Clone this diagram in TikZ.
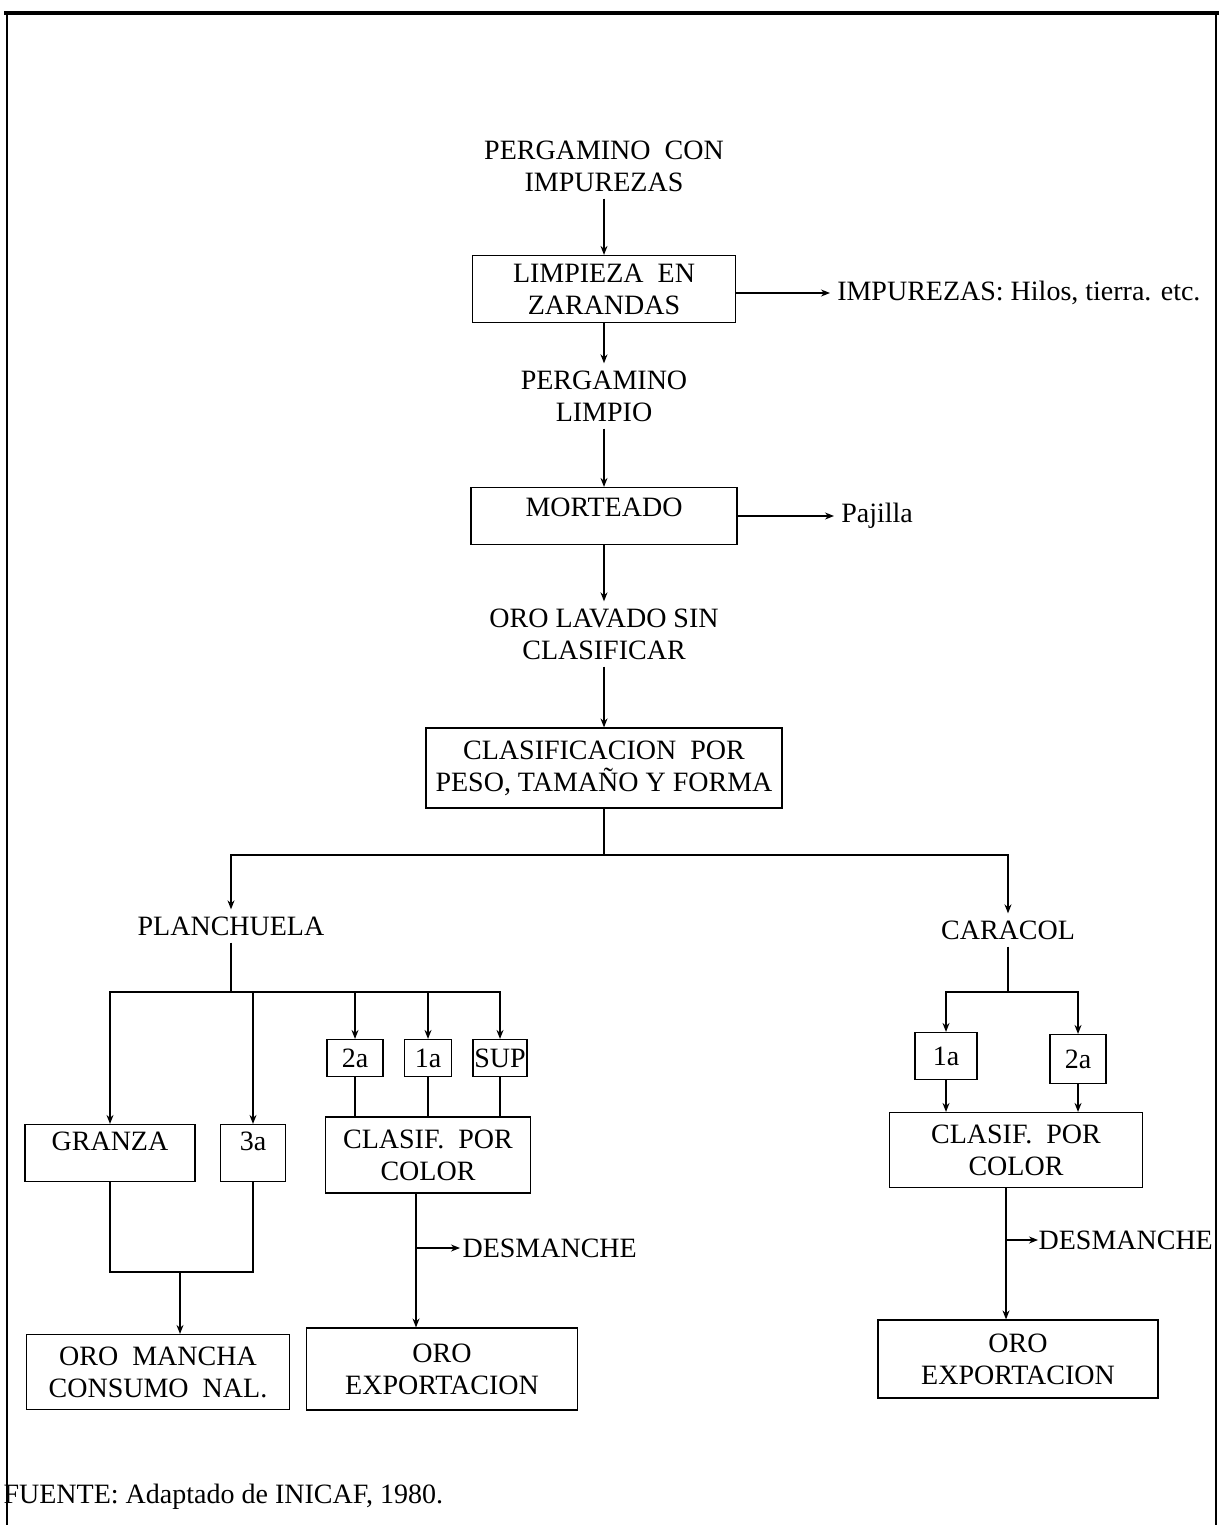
\documentclass[tikz,border=0pt]{standalone}
\usepackage{fontspec}
\setmainfont{Liberation Serif}
\usetikzlibrary{arrows.meta}

\begin{document}
\begin{tikzpicture}[x=0.5pt, y=-0.5pt, line width=0.6pt,
    >={Stealth[length=4.5pt,width=3.5pt]},
    txt/.style={align=center, font=\fontsize{14}{16}\selectfont},
    box/.style={draw, txt, inner sep=2pt}]
  \useasboundingbox (0,0) rectangle (1219,1525);
  % marco
  \draw[line width=1.6pt] (4,13) -- (1219,13);
  \draw (7,13) -- (7,1525);
  \draw (1216,13) -- (1216,1525);

  % columna central
  \node[txt] (pci) at (604,166) {PERGAMINO\ \ CON\\IMPUREZAS};
  \node[box, minimum width=131.5pt, minimum height=33.5pt] (limp) at (604,289) {LIMPIEZA\ \ EN\\ZARANDAS};
  \node[txt, anchor=west] (imp) at (830,293) {IMPUREZAS: Hilos, tierra. etc.};
  \node[txt] (pl) at (604,396) {PERGAMINO\\LIMPIO};
  \node[box, minimum width=133pt, minimum height=28.5pt, text depth=8.5pt] (mort) at (604,516) {MORTEADO};
  \node[txt, anchor=west] (paj) at (834,516) {Pajilla};
  \node[txt] (olsc) at (604,634) {ORO LAVADO SIN\\CLASIFICAR};
  \node[box, minimum width=178pt, minimum height=40pt] (clas) at (604,768) {CLASIFICACION\ \ POR\\PESO, TAMAÑO Y FORMA};

  \draw[->] (pci) -- (limp);
  \draw[->] (limp.east |- imp) -- (imp);
  \draw[->] (limp) -- (pl);
  \draw[->] (pl) -- (mort);
  \draw[->] (mort) -- (paj);
  \draw[->] (mort) -- (olsc);
  \draw[->] (olsc) -- (clas);

  \coordinate (split) at (604,855);
  \node[txt] (planch) at (231,926) {PLANCHUELA};
  \node[txt] (cara) at (1008,930) {CARACOL};
  \draw (clas) -- (split);
  \draw[->] (split) -| (planch);
  \draw[->] (split) -| (cara);

  % planchuela
  \coordinate (pb) at (231,992);
  \node[box, minimum width=85pt, minimum height=28.5pt, text depth=12pt] (granza) at (110,1153) {GRANZA};
  \node[box, minimum width=32.5pt, minimum height=28.5pt, text depth=12pt] (p3a) at (253,1153) {3a};
  \node[box, minimum width=28pt, minimum height=18.5pt] (p2a) at (355,1058) {2a};
  \node[box, minimum width=23.5pt, minimum height=18.5pt] (p1a) at (428,1058) {1a};
  \node[box, minimum width=27pt, minimum height=18.5pt, inner sep=0pt] (psup) at (500,1058) {SUP};
  \node[box, minimum width=102.5pt, minimum height=38pt] (pcc) at (428,1155) {CLASIF.\ \ POR\\COLOR};
  \draw (planch) -- (pb);
  \draw[->] (pb) -| (granza);
  \draw[->] (pb) -| (p3a);
  \draw[->] (pb) -| (p2a);
  \draw[->] (pb) -| (p1a);
  \draw[->] (pb) -| (psup);
  \draw (p2a) -- (p2a |- pcc.north);
  \draw (p1a) -- (p1a |- pcc.north);
  \draw (psup) -- (psup |- pcc.north);

  \coordinate (mj) at (180,1272);
  \node[box, minimum width=131.5pt, minimum height=37.5pt] (omcn) at (158,1372) {ORO\ \ MANCHA\\CONSUMO\ \ NAL.};
  \draw (granza) |- (p3a |- mj) -- (p3a);
  \draw[->] (mj) -- (mj |- omcn.north);

  \coordinate (d1) at (416,1248);
  \node[txt, anchor=west, inner sep=1pt] (des1) at (460,1248) {DESMANCHE};
  \node[box, minimum width=135.5pt, minimum height=41pt] (oe1) at (442,1369) {ORO\\EXPORTACION};
  \draw[->] (pcc.south -| d1) -- (d1 |- oe1.north);
  \draw[->] (d1) -- (des1);

  % caracol
  \coordinate (cb) at (1008,992);
  \node[box, minimum width=31pt, minimum height=23.5pt] (c1a) at (946,1056) {1a};
  \node[box, minimum width=28pt, minimum height=24.5pt] (c2a) at (1078,1059) {2a};
  \node[box, minimum width=126.5pt, minimum height=37.5pt] (ccc) at (1016,1150) {CLASIF.\ \ POR\\COLOR};
  \draw (cara) -- (cb);
  \draw[->] (cb) -| (c1a);
  \draw[->] (cb) -| (c2a);
  \draw[->] (c1a) -- (c1a |- ccc.north);
  \draw[->] (c2a) -- (c2a |- ccc.north);

  \coordinate (d2) at (1006,1240);
  \node[txt, anchor=west, inner sep=0pt] (des2) at (1038,1240) {DESMANCHE};
  \node[box, minimum width=140pt, minimum height=39pt] (oe2) at (1018,1359) {ORO\\EXPORTACION};
  \draw[->] (ccc.south -| d2) -- (d2 |- oe2.north);
  \draw[->] (d2) -- (des2);

  \node[txt, anchor=west, inner sep=0pt] (fuente) at (3,1497) {FUENTE: Adaptado de INICAF, 1980.};
\end{tikzpicture}
\end{document}
